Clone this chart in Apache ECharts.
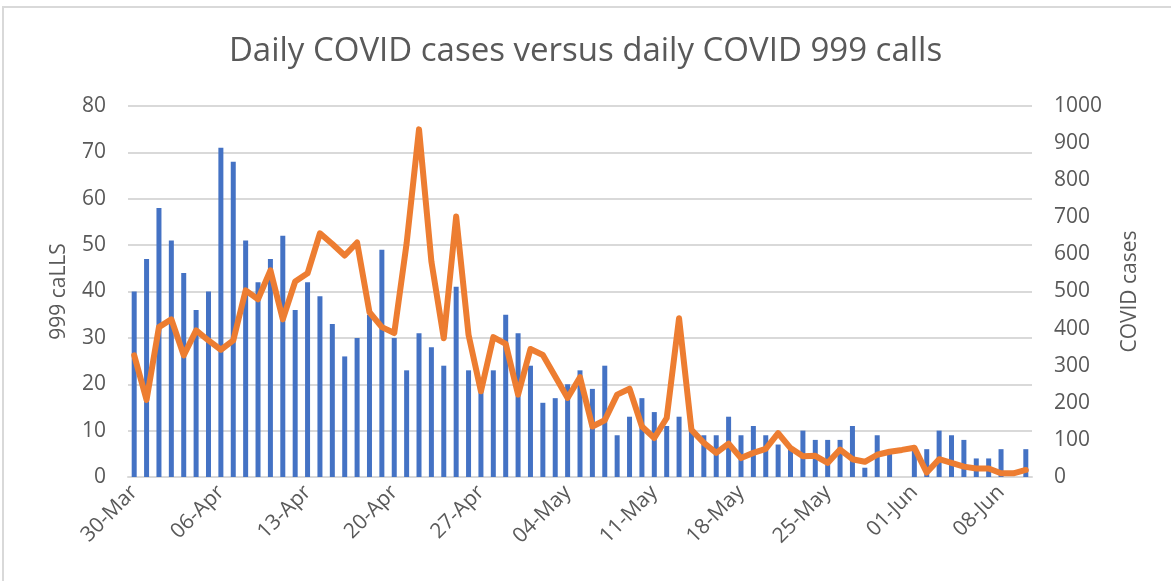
<!DOCTYPE html>
<html>
<head>
<meta charset="utf-8">
<script src="https://cdn.jsdelivr.net/npm/echarts@6/dist/echarts.min.js"></script>
<style>
html,body{margin:0;padding:0;background:#fff;}
#chart{width:1171px;height:581px;}
</style>
</head>
<body>
<div id="chart"></div>
<script>
var dates = ["30-Mar","31-Mar","01-Apr","02-Apr","03-Apr","04-Apr","05-Apr","06-Apr","07-Apr","08-Apr","09-Apr","10-Apr","11-Apr","12-Apr","13-Apr","14-Apr","15-Apr","16-Apr","17-Apr","18-Apr","19-Apr","20-Apr","21-Apr","22-Apr","23-Apr","24-Apr","25-Apr","26-Apr","27-Apr","28-Apr","29-Apr","30-Apr","01-May","02-May","03-May","04-May","05-May","06-May","07-May","08-May","09-May","10-May","11-May","12-May","13-May","14-May","15-May","16-May","17-May","18-May","19-May","20-May","21-May","22-May","23-May","24-May","25-May","26-May","27-May","28-May","29-May","30-May","31-May","01-Jun","02-Jun","03-Jun","04-Jun","05-Jun","06-Jun","07-Jun","08-Jun","09-Jun","10-Jun"];
var calls999 = [40,47,58,51,44,36,40,71,68,51,42,47,52,36,42,39,33,26,30,35,49,30,23,31,28,24,41,23,19,23,35,31,24,16,17,20,23,19,24,9,13,17,14,11,13,10,9,9,13,9,11,9,7,6,10,8,8,8,11,2,9,5,0,6,6,10,9,8,4,4,6,0,6];
var covidCases = [328,208,404,425,328,395,368,343,368,503,479,557,425,527,549,657,628,597,632,444,404,388,630,937,581,374,702,383,231,377,359,222,345,329,271,213,269,136,153,222,238,136,105,159,428,127,92,65,90,51,65,76,118,78,56,57,38,74,48,41,60,68,73,79,12,48,38,28,23,23,10,10,19];
var titleText = "Daily COVID cases versus daily COVID 999 calls";
var leftAxisName = "999 caLLS";
var rightAxisName = "COVID cases";

var FONT = "'Open Sans', 'Noto Sans', sans-serif";
var TXT = "#595959";
var GRID = "#d9d9d9";

var chart = echarts.init(document.getElementById('chart'), null, {renderer: 'canvas'});
chart.setOption({
  animation: false,
  backgroundColor: '#ffffff',
  graphic: [{
    type: 'rect', silent: true, z: -1,
    shape: {x: 3, y: 7, width: 1200, height: 600},
    style: {fill: 'none', stroke: GRID, lineWidth: 2}
  }],
  title: {
    text: titleText, left: 'center', top: 30,
    textStyle: {fontFamily: FONT, fontSize: 33, fontWeight: 'normal', color: TXT}
  },
  grid: {left: 128, right: 139, top: 106, bottom: 104, containLabel: false},
  xAxis: {
    type: 'category', data: dates, boundaryGap: true,
    axisLine: {show: true, lineStyle: {color: GRID, width: 2}},
    axisTick: {show: false},
    axisLabel: {interval: 6, rotate: 45, fontFamily: FONT, fontSize: 21, color: TXT, margin: 12}
  },
  yAxis: [{
    type: 'value', min: 0, max: 80, interval: 10, position: 'left',
    name: leftAxisName, nameLocation: 'middle', nameRotate: 90, nameGap: 58,
    nameTextStyle: {fontFamily: FONT, fontSize: 21, color: TXT},
    axisLine: {show: false}, axisTick: {show: false},
    axisLabel: {fontFamily: FONT, fontSize: 21, color: TXT, margin: 22},
    splitLine: {show: true, lineStyle: {color: GRID, width: 2}}
  }, {
    type: 'value', min: 0, max: 1000, interval: 100, position: 'right',
    name: rightAxisName, nameLocation: 'middle', nameRotate: 90, nameGap: 88,
    nameTextStyle: {fontFamily: FONT, fontSize: 21, color: TXT},
    axisLine: {show: false}, axisTick: {show: false},
    axisLabel: {fontFamily: FONT, fontSize: 21, color: TXT, margin: 22,
      formatter: function (v) { return String(v); }},
    splitLine: {show: false}
  }],
  series: [{
    name: '999 calls', type: 'bar', yAxisIndex: 0, data: calls999,
    barWidth: 5, itemStyle: {color: '#4472C4'}
  }, {
    name: 'COVID cases', type: 'line', yAxisIndex: 1, data: covidCases,
    symbol: 'none', smooth: false,
    lineStyle: {color: '#ED7D31', width: 6, join: 'round', cap: 'round'},
    itemStyle: {color: '#ED7D31'}
  }]
});
</script>
</body>
</html>
